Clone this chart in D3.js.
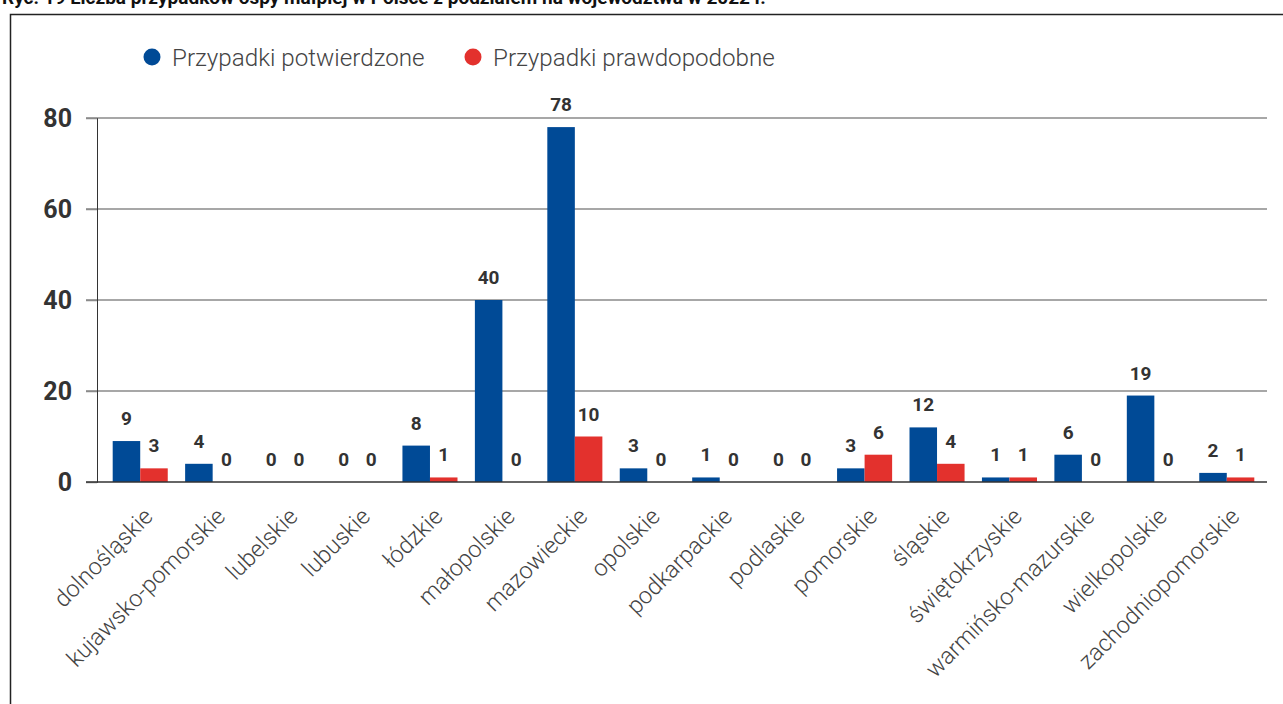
<!DOCTYPE html>
<html>
<head>
<meta charset="utf-8">
<script src="https://cdn.jsdelivr.net/npm/d3@7"></script>
<style>
  body { margin: 0; background: #fff; }
  svg { display: block; }
</style>
</head>
<body>
<svg id="chart"></svg>
<script>
// data
const regions = ["dolnośląskie", "kujawsko-pomorskie", "lubelskie", "lubuskie", "łódzkie",
  "małopolskie", "mazowieckie", "opolskie", "podkarpackie", "podlaskie", "pomorskie",
  "śląskie", "świętokrzyskie", "warmińsko-mazurskie", "wielkopolskie", "zachodniopomorskie"];
const confirmed = [9, 4, 0, 0, 8, 40, 78, 3, 1, 0, 3, 12, 1, 6, 19, 2];
const probable  = [3, 0, 0, 0, 1, 0, 10, 0, 0, 0, 6, 4, 1, 0, 0, 1];
const seriesNames = ["Przypadki potwierdzone", "Przypadki prawdopodobne"];
const seriesColors = ["#004a96", "#e3312d"];
const yTicks = [0, 20, 40, 60, 80];
const title = "Ryc. 19 Liczba przypadków ospy małpiej w Polsce z podziałem na województwa w 2022 r.";

const width = 1283, height = 704;
const svg = d3.select("#chart").attr("width", width).attr("height", height);
const font = "Roboto, 'Open Sans', sans-serif";

// title (cut off at the top, as in the source) + frame
svg.append("text").attr("x", 2).attr("y", 4)
  .attr("font-family", font).attr("font-weight", 700).attr("font-size", 19)
  .attr("fill", "#111").text(title);
svg.append("path").attr("d", "M10.5," + height + " V14.5 H" + width)
  .attr("fill", "none").attr("stroke", "#222").attr("stroke-width", 1.5);

const x0 = d3.scaleBand().domain(regions).range([104, 1263]).paddingInner(0.24).paddingOuter(0.12);
const x1 = d3.scaleBand().domain([0, 1]).range([0, x0.bandwidth()]);
const y = d3.scaleLinear().domain([0, 80]).range([482, 118]);

// gridlines
svg.append("g").selectAll("line").data(yTicks.filter(d => d > 0)).enter().append("line")
  .attr("x1", 86).attr("x2", 1267)
  .attr("y1", d => y(d)).attr("y2", d => y(d))
  .attr("stroke", "#8a8a8a").attr("stroke-width", 1.5);

// y axis
const yAxis = svg.append("g").attr("transform", "translate(97,0)")
  .call(d3.axisLeft(y).tickValues(yTicks).tickSize(11).tickPadding(14));
yAxis.select(".domain").attr("stroke", "#333").attr("stroke-width", 1);
yAxis.selectAll(".tick line").attr("stroke", "#8a8a8a").attr("stroke-width", 1.5);
yAxis.selectAll(".tick text").attr("font-family", font).attr("font-weight", 700)
  .attr("font-size", 25).attr("fill", "#333");

// bars
const rows = regions.map((r, i) => ({ region: r, values: [confirmed[i], probable[i]] }));
const groups = svg.append("g").selectAll("g").data(rows).enter().append("g")
  .attr("transform", d => "translate(" + x0(d.region) + ",0)");
groups.selectAll("rect").data(d => d.values.map((v, k) => ({ v, k }))).enter().append("rect")
  .attr("x", d => x1(d.k)).attr("width", x1.bandwidth())
  .attr("y", d => y(d.v)).attr("height", d => y(0) - y(d.v))
  .attr("fill", d => seriesColors[d.k]);
groups.selectAll("text").data(d => d.values.map((v, k) => ({ v, k }))).enter().append("text")
  .attr("x", d => x1(d.k) + x1.bandwidth() / 2)
  .attr("y", d => y(d.v) - 16)
  .attr("text-anchor", "middle")
  .attr("font-family", font).attr("font-weight", 700).attr("font-size", 19)
  .attr("fill", "#333").text(d => d.v);

// zero line
svg.append("line").attr("x1", 86).attr("x2", 1267).attr("y1", y(0)).attr("y2", y(0))
  .attr("stroke", "#333").attr("stroke-width", 1.5);

// x labels
svg.append("g").selectAll("text").data(regions).enter().append("text")
  .attr("transform", d => "translate(" + (x0(d) + x0.bandwidth() / 2 + 14) + ",518) rotate(-45)")
  .attr("text-anchor", "end")
  .attr("font-family", font).attr("font-weight", 300).attr("font-size", 23.5)
  .attr("fill", "#444").text(d => d);

// legend
const legendX = [152, 473];
const legend = svg.append("g").selectAll("g").data(seriesNames).enter().append("g")
  .attr("transform", (d, i) => "translate(" + legendX[i] + ",57)");
legend.append("circle").attr("r", 8.5).attr("fill", (d, i) => seriesColors[i]);
legend.append("text").attr("x", 20).attr("y", 9)
  .attr("font-family", font).attr("font-weight", 300).attr("font-size", 24.2)
  .attr("fill", "#444").text(d => d);
</script>
</body>
</html>
